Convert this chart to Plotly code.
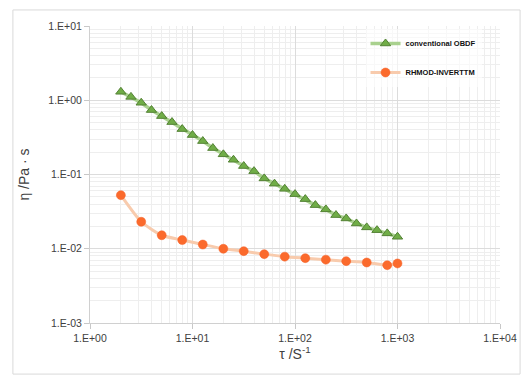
import plotly.graph_objects as go

# Data
x_obdf = [2.0, 2.51, 3.16, 3.98, 5.01, 6.31, 7.94, 10.0, 12.6, 15.8, 20.0, 25.1, 31.6, 39.8,
          50.1, 63.1, 79.4, 100, 126, 158, 200, 251, 316, 398, 501, 631, 794, 1000]
y_obdf = [1.30, 1.11, 0.925, 0.738, 0.612, 0.508, 0.409, 0.340, 0.282, 0.227, 0.187, 0.158,
          0.130, 0.111, 0.0886, 0.0753, 0.0641, 0.0544, 0.0466, 0.0387, 0.0339, 0.0284,
          0.0256, 0.0219, 0.0194, 0.0178, 0.0161, 0.0145]
x_rh = [2.0, 3.16, 5.01, 7.94, 12.6, 20.0, 31.6, 50.1, 79.4, 126, 200, 316, 501, 794, 1000]
y_rh = [0.0527, 0.0231, 0.0152, 0.0131, 0.0114, 0.0100, 0.00928, 0.00846, 0.00783,
        0.00747, 0.00713, 0.00681, 0.00653, 0.00601, 0.00634]

series_names = ["conventional OBDF", "RHMOD-INVERTTM"]

x_tickvals = [1, 10, 100, 1000, 10000]
x_ticktext = ["1.E+00", "1.E+01", "1.E+02", "1.E+03", "1.E+04"]
y_tickvals = [0.001, 0.01, 0.1, 1, 10]
y_ticktext = ["1.E-03", "1.E-02", "1.E-01", "1.E+00", "1.E+01"]

x_minor = [m * 10 ** d for d in range(0, 4) for m in range(2, 10)]
y_minor = [m * 10 ** d for d in range(-3, 1) for m in range(2, 10)]

font_family = "Liberation Sans Narrow, Liberation Sans, Arial, sans-serif"
title_family = "Liberation Sans, Arial, sans-serif"

fig = go.Figure()
fig.add_trace(go.Scatter(
    x=x_obdf, y=y_obdf, mode="lines+markers", name=series_names[0],
    legendgroup="a",
    line=dict(color="#a9d18e", width=3.5),
    marker=dict(symbol="triangle-up", size=9, color="#70ad47",
                line=dict(color="#548235", width=1)),
))
fig.add_trace(go.Scatter(
    x=x_rh, y=y_rh, mode="lines+markers", name=series_names[1],
    legendgroup="b",
    line=dict(color="#f8cbad", width=3, shape="spline", smoothing=0.6),
    marker=dict(symbol="circle", size=9, color="#fb6a2c",
                line=dict(color="#f4632b", width=0.5)),
))

axis_common = dict(
    type="log",
    showline=True, linecolor="#d0d0d0", linewidth=1,
    ticks="outside", ticklen=5, tickcolor="#c8c8c8",
    showgrid=True, gridcolor="#dcdcdc", gridwidth=1,
    tickfont=dict(family=font_family, size=10.5, color="#404040"),
    zeroline=False, automargin=False,
)

fig.update_xaxes(
    **axis_common,
    minor=dict(showgrid=True, gridcolor="#eeeeee", ticks="", tickmode="array", tickvals=x_minor),
    range=[0, 4], tickvals=x_tickvals, ticktext=x_ticktext,
    title=dict(text="τ /S<sup>-1</sup>", font=dict(family=title_family, size=14, color="#404040"),
               standoff=6),
)
fig.update_yaxes(
    **axis_common,
    minor=dict(showgrid=True, gridcolor="#eeeeee", ticks="", tickmode="array", tickvals=y_minor),
    range=[-3, 1], tickvals=y_tickvals, ticktext=y_ticktext,
    title=dict(text="η /Pa · s", font=dict(family=title_family, size=14, color="#404040"),
               standoff=15),
)

fig.update_layout(
    width=524, height=376,
    margin=dict(l=90, r=24, t=26, b=53),
    paper_bgcolor="white", plot_bgcolor="white",
    showlegend=True,
    legend=dict(
        x=0.672, y=0.99, xanchor="left", yanchor="top",
        bgcolor="rgba(255,255,255,0.6)", borderwidth=0,
        font=dict(family=font_family, size=7.5, color="#111111", weight="bold"),
        itemwidth=30, traceorder="grouped", tracegroupgap=10,
    ),
    shapes=[dict(type="rect", xref="paper", yref="paper",
                 x0=-0.188, x1=1.049, y0=-0.172, y1=1.054,
                 line=dict(color="#d9d9d9", width=1), layer="below")],
)

fig.write_html("out.html", config={"displayModeBar": False},
               post_script="document.body.style.margin='0';")
